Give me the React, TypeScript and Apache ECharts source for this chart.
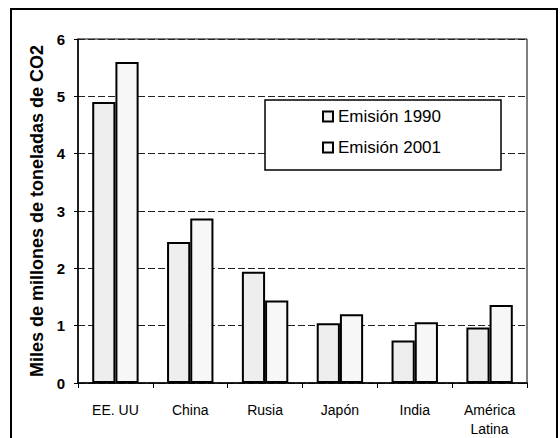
import React, { useEffect, useRef } from "react";
import * as echarts from "echarts";

const categories = ["EE. UU", "China", "Rusia", "Japón", "India", "América\nLatina"];
const emision1990 = [4.9, 2.46, 1.94, 1.04, 0.74, 0.97];
const emision2001 = [5.6, 2.87, 1.44, 1.2, 1.06, 1.36];
const seriesNames = ["Emisión 1990", "Emisión 2001"];
const yTicks = { min: 0, max: 6, interval: 1 };

export default function App() {
  const ref = useRef<HTMLDivElement>(null);
  useEffect(() => {
    if (!ref.current) return;
    const chart = echarts.init(ref.current, null, { renderer: "svg" });
    const font = "'Liberation Sans', Arial, sans-serif";
    chart.setOption({
      animation: false,
      backgroundColor: "#ffffff",
      textStyle: { fontFamily: font },
      graphic: [
        {
          type: "rect",
          shape: { x: 11, y: 9, width: 546, height: 440 },
          style: { fill: "none", stroke: "#000", lineWidth: 2 },
          silent: true,
        },
      ],
      grid: {
        left: 78,
        right: 33,
        top: 39,
        bottom: 54,
        containLabel: false,
        show: true,
        borderColor: "#000",
        borderWidth: 1,
      },
      legend: {
        show: true,
        orient: "vertical",
        left: 265,
        top: 100,
        padding: [8, 60, 14, 57],
        itemGap: 14,
        itemWidth: 10,
        itemHeight: 10,
        backgroundColor: "#fff",
        borderColor: "#000",
        borderWidth: 1.5,
        icon: "rect",
        textStyle: { fontSize: 17, color: "#000", fontFamily: font },
        data: seriesNames,
      },
      xAxis: {
        type: "category",
        data: categories,
        axisLine: { lineStyle: { color: "#000", width: 1.5 } },
        axisTick: { show: true, alignWithLabel: false, length: 5, lineStyle: { color: "#000" } },
        axisLabel: { color: "#000", fontSize: 14, margin: 17, lineHeight: 19 },
        splitLine: { show: false },
      },
      yAxis: {
        type: "value",
        min: yTicks.min,
        max: yTicks.max,
        interval: yTicks.interval,
        name: "Miles de millones de toneladas de CO2",
        nameLocation: "middle",
        nameGap: 32,
        nameTextStyle: { fontSize: 18, fontWeight: "bold", color: "#000" },
        axisLine: { show: true, lineStyle: { color: "#000", width: 1.5 } },
        axisTick: { show: true, length: 4, lineStyle: { color: "#000" } },
        axisLabel: { color: "#000", fontSize: 15, fontWeight: "bold", margin: 13 },
        splitLine: { show: true, lineStyle: { color: "#222", type: [7, 3], width: 1 } },
      },
      series: [
        {
          name: seriesNames[0],
          type: "bar",
          data: emision1990,
          barGap: "0%",
          barCategoryGap: "38%",
          itemStyle: { color: "#eeeeee", borderColor: "#000", borderWidth: 2 },
        },
        {
          name: seriesNames[1],
          type: "bar",
          data: emision2001,
          itemStyle: { color: "#f7f7f7", borderColor: "#000", borderWidth: 2 },
        },
      ],
    });
    return () => chart.dispose();
  }, []);
  return (
    <div
      ref={ref}
      style={{ position: "fixed", left: 0, top: 0, width: 560, height: 438 }}
    />
  );
}
